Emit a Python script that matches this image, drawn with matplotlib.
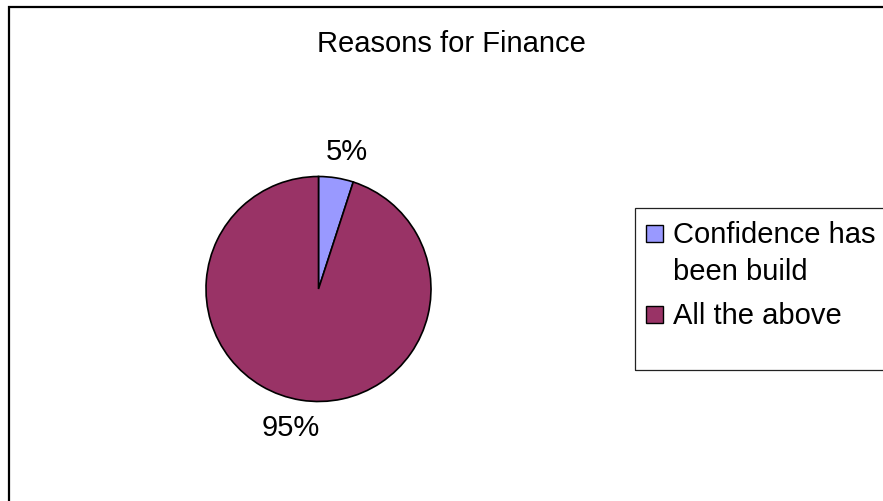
"""Pie chart: reasons for finance, drawn in an Excel-like frame."""

import matplotlib

matplotlib.use("Agg")
import matplotlib.pyplot as plt
from matplotlib.patches import Rectangle

plt.rcParams["font.family"] = ["Liberation Sans", "DejaVu Sans"]

title = "Reasons for Finance"
categories = ["Confidence has\nbeen build", "All the above"]
shares = [5, 95]
colors = ["#9999FF", "#993366"]

W, H = 883, 502
FS = 21
fig = plt.figure(figsize=(W / 100, H / 100), dpi=100)


def fx(px):
    return px / W


def fy(py):
    return 1 - py / H


# outer chart border (runs off the right/bottom edge)
fig.patches.append(
    Rectangle((fx(8.5), -0.1), 1.2, fy(7.5) + 0.1, transform=fig.transFigure,
              fill=False, edgecolor="black", linewidth=1.6)
)

fig.text(fx(451), fy(52), title, ha="center", va="baseline", fontsize=FS)

# pie, centre (318.5, 290) px, radius 112.5 px
cx, cy, r = 318.5, 290, 112.5
ax = fig.add_axes([fx(cx - r), fy(cy + r), 2 * r / W, 2 * r / H])
wedges, _, pct = ax.pie(
    shares,
    colors=colors,
    startangle=90,
    counterclock=False,
    radius=1.0,
    autopct="%1.0f%%",
    pctdistance=1.24,
    wedgeprops=dict(edgecolor="black", linewidth=1.2),
)
# spread the labels a little sideways, like Excel does
for t, nudge in zip(pct, [0.06, -0.05]):
    x, y = t.get_position()
    t.set_position((x + nudge, y))
    t.set_fontsize(FS)
ax.set_xlim(-1, 1)
ax.set_ylim(-1, 1)
ax.set_aspect("equal")
ax.axis("off")

# legend box
fig.patches.append(
    Rectangle((fx(634.5), fy(371)), 0.6, (371 - 209) / H, transform=fig.transFigure,
              fill=False, edgecolor="#222222", linewidth=0.9)
)
swatch_tops = [226, 307]
line_gap = 37
for top, label, c in zip(swatch_tops, categories, colors):
    fig.patches.append(
        Rectangle((fx(646), fy(top + 17)), 17 / W, 17 / H, transform=fig.transFigure,
                  facecolor=c, edgecolor="black", linewidth=1.0)
    )
    for i, line in enumerate(label.split("\n")):
        fig.text(fx(673), fy(top + 17 + i * line_gap), line, ha="left",
                 va="baseline", fontsize=FS)

fig.savefig("out.png", dpi=100, facecolor="white")
